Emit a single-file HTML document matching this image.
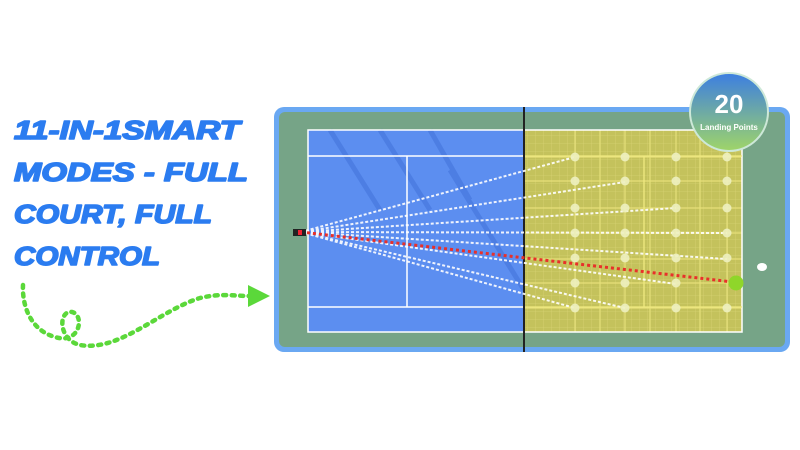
<!DOCTYPE html>
<html><head><meta charset="utf-8"><style>
html,body{margin:0;padding:0;background:#fff;width:800px;height:450px;overflow:hidden}
svg{display:block}
</style></head><body>
<svg width="800" height="450" viewBox="0 0 800 450" xmlns="http://www.w3.org/2000/svg">
<defs>
<pattern id="grid" width="8" height="8" patternUnits="userSpaceOnUse">
<path d="M8 0V8M0 8H8" stroke="#dcd77a" stroke-width="0.6" fill="none"/>
</pattern>
<linearGradient id="bg" x1="0" y1="0" x2="0" y2="1">
<stop offset="0" stop-color="#3d7fe0"/><stop offset="1" stop-color="#9ed46a"/>
</linearGradient>
</defs>
<g font-family="Liberation Sans, sans-serif" font-weight="bold" font-style="italic" font-size="26" fill="#2b7cf0" stroke="#fff" stroke-width="4" stroke-linejoin="round">
<text x="14" y="139" textLength="226" lengthAdjust="spacingAndGlyphs">11-IN-1SMART</text>
<text x="14" y="181" textLength="234" lengthAdjust="spacingAndGlyphs">MODES - FULL</text>
<text x="14" y="223" textLength="198" lengthAdjust="spacingAndGlyphs">COURT, FULL</text>
<text x="14" y="265" textLength="146" lengthAdjust="spacingAndGlyphs">CONTROL</text>
</g>
<g font-family="Liberation Sans, sans-serif" font-weight="bold" font-style="italic" font-size="26" fill="#2b7cf0" stroke="#2b7cf0" stroke-width="1.6" stroke-linejoin="round">
<text x="14" y="139" textLength="226" lengthAdjust="spacingAndGlyphs">11-IN-1SMART</text>
<text x="14" y="181" textLength="234" lengthAdjust="spacingAndGlyphs">MODES - FULL</text>
<text x="14" y="223" textLength="198" lengthAdjust="spacingAndGlyphs">COURT, FULL</text>
<text x="14" y="265" textLength="146" lengthAdjust="spacingAndGlyphs">CONTROL</text>
</g>
<path d="M23 285 C22 305 30 330 55 337 C80 345 85 315 72 312 C58 310 58 340 80 345 C120 352 160 310 200 298 C220 293 235 296 250 296" fill="none" stroke="#5bd83a" stroke-width="4.5" stroke-dasharray="3 5.5" stroke-linecap="round"/>
<polygon points="248,285 270,296 248,307" fill="#5bd83a"/>
<rect x="274" y="107" width="516" height="245" rx="10" fill="#6aa8f2"/>
<rect x="279" y="112" width="506" height="235" rx="6" fill="#76a487"/>
<rect x="308" y="130" width="216" height="202" fill="#5c8ef0"/>
<g stroke="#3f70d8" stroke-width="5" opacity="0.5">
<line x1="330" y1="130" x2="380" y2="210"/><line x1="380" y1="130" x2="430" y2="210"/><line x1="430" y1="130" x2="470" y2="200"/><line x1="450" y1="170" x2="524" y2="290"/>
</g>
<rect x="524" y="130" width="218" height="202" fill="#c4c25c"/>
<rect x="524" y="130" width="218" height="202" fill="url(#grid)"/>
<g stroke="#e6e07a" stroke-width="1.2">
<line x1="575" y1="130" x2="575" y2="332"/><line x1="600" y1="130" x2="600" y2="332"/><line x1="625" y1="130" x2="625" y2="332"/><line x1="650" y1="130" x2="650" y2="332"/><line x1="676" y1="130" x2="676" y2="332"/><line x1="700" y1="130" x2="700" y2="332"/><line x1="727" y1="130" x2="727" y2="332"/>
<line x1="524" y1="157" x2="742" y2="157"/><line x1="524" y1="181" x2="742" y2="181"/><line x1="524" y1="208" x2="742" y2="208"/><line x1="524" y1="233" x2="742" y2="233"/><line x1="524" y1="259" x2="742" y2="259"/><line x1="524" y1="283" x2="742" y2="283"/><line x1="524" y1="308" x2="742" y2="308"/>
</g>
<g stroke="#fff" stroke-width="1.5" fill="none">
<rect x="308" y="130" width="434" height="202"/>
<line x1="308" y1="156" x2="524" y2="156"/><line x1="308" y1="307" x2="524" y2="307"/>
<line x1="407" y1="156" x2="407" y2="307"/>
</g>
<g stroke="#f0ea80" stroke-width="1.3"><line x1="644" y1="156" x2="644" y2="307"/><line x1="524" y1="156" x2="742" y2="156"/><line x1="524" y1="307" x2="742" y2="307"/></g>
<line x1="524" y1="107" x2="524" y2="352" stroke="#222" stroke-width="2"/>
<g stroke="#fff" stroke-width="2" stroke-dasharray="3 2" opacity="0.9">
<line x1="301" y1="232" x2="575" y2="157"/><line x1="301" y1="232" x2="625" y2="182"/><line x1="301" y1="232" x2="676" y2="208"/><line x1="301" y1="232" x2="727" y2="233"/><line x1="301" y1="232" x2="727" y2="259"/><line x1="301" y1="232" x2="676" y2="284"/><line x1="301" y1="232" x2="625" y2="308"/><line x1="301" y1="232" x2="575" y2="308"/>
</g>
<g fill="#eef0c0" opacity="0.9">
<circle cx="575" cy="157" r="4.5"/><circle cx="625" cy="157" r="4.5"/><circle cx="676" cy="157" r="4.5"/><circle cx="727" cy="157" r="4.5"/>
<circle cx="575" cy="181" r="4.5"/><circle cx="625" cy="181" r="4.5"/><circle cx="676" cy="181" r="4.5"/><circle cx="727" cy="181" r="4.5"/>
<circle cx="575" cy="208" r="4.5"/><circle cx="625" cy="208" r="4.5"/><circle cx="676" cy="208" r="4.5"/><circle cx="727" cy="208" r="4.5"/>
<circle cx="575" cy="233" r="4.5"/><circle cx="625" cy="233" r="4.5"/><circle cx="676" cy="233" r="4.5"/><circle cx="727" cy="233" r="4.5"/>
<circle cx="575" cy="258" r="4.5"/><circle cx="625" cy="258" r="4.5"/><circle cx="676" cy="258" r="4.5"/><circle cx="727" cy="258" r="4.5"/>
<circle cx="575" cy="283" r="4.5"/><circle cx="625" cy="283" r="4.5"/><circle cx="676" cy="283" r="4.5"/>
<circle cx="575" cy="308" r="4.5"/><circle cx="625" cy="308" r="4.5"/><circle cx="676" cy="308" r="4.5"/><circle cx="727" cy="308" r="4.5"/>
</g>
<line x1="301" y1="232" x2="733" y2="282" stroke="#e8302a" stroke-width="3" stroke-dasharray="3 3"/>
<circle cx="736" cy="283" r="7.5" fill="#8fd62a"/>
<rect x="293" y="229" width="13" height="7" fill="#222"/><rect x="298" y="230" width="4" height="5" fill="#e23"/>
<g fill="#fff"><ellipse cx="762" cy="267" rx="5" ry="4"/></g>
<circle cx="729" cy="112" r="40" fill="#cde8d8"/>
<circle cx="729" cy="112" r="38" fill="url(#bg)"/>
<text x="729" y="113" text-anchor="middle" font-family="Liberation Sans, sans-serif" font-weight="bold" font-size="26" fill="#fff">20</text>
<text x="729" y="130" text-anchor="middle" font-family="Liberation Sans, sans-serif" font-weight="bold" font-size="8" fill="#fff">Landing Points</text>
</svg>
</body></html>
